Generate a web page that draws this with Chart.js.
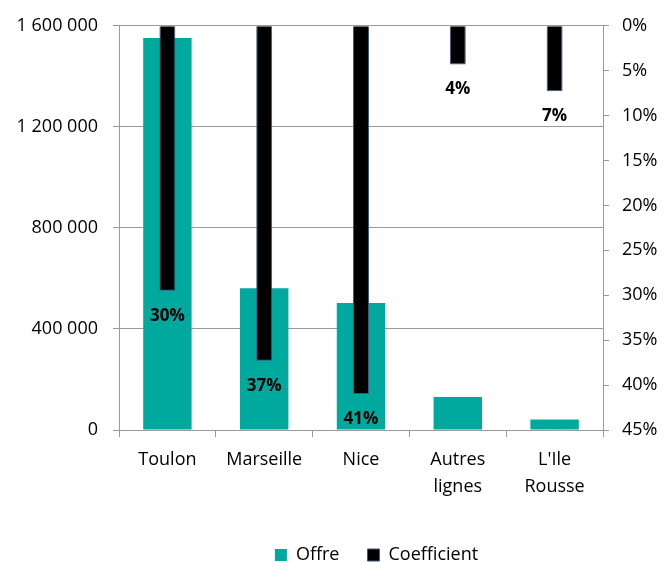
<!DOCTYPE html>
<html>
<head>
<meta charset="utf-8">
<script src="https://cdn.jsdelivr.net/npm/chart.js@4"></script>
<style>
  html, body { margin: 0; padding: 0; background: #fff; }
  #wrap { width: 665px; height: 563px; }
</style>
</head>
<body>
<div id="wrap"><canvas id="chart"></canvas></div>
<script>
const categories = ['Toulon', 'Marseille', 'Nice', ['Autres', 'lignes'], ["L'Ile", 'Rousse']];
const offre = [1552000, 561000, 503000, 131000, 42000];
const coefficient = [29.5, 37.3, 41, 4.3, 7.3];
const offreTicks = [0, 400000, 800000, 1200000, 1600000];
const coefTicks = [0, 5, 10, 15, 20, 25, 30, 35, 40, 45];

const AXIS_GREY = '#9a9a9a';
const FONT = '"Open Sans", sans-serif';

// labels under the hanging black bars
const barLabels = {
  id: 'barLabels',
  afterDatasetsDraw(chart) {
    const meta = chart.getDatasetMeta(1);
    const ctx = chart.ctx;
    ctx.save();
    ctx.font = `bold 17px ${FONT}`;
    ctx.fillStyle = '#000';
    ctx.textAlign = 'center';
    ctx.textBaseline = 'middle';
    meta.data.forEach((bar, i) => {
      ctx.fillText(Math.round(coefficient[i]) + '%', bar.x, bar.y + 25);
    });
    ctx.restore();
  },
};

// legend sits a bit right of the canvas centre in the original
const legendShift = {
  id: 'legendShift',
  afterLayout(chart) {
    chart.legend.left += 44;
    chart.legend.right += 44;
  },
};

function spaced(val) {
  return val.toString().replace(/\B(?=(\d{3})+(?!\d))/g, ' ');
}

new Chart(document.getElementById('chart'), {
  type: 'bar',
  data: {
    labels: categories,
    datasets: [
      {
        label: 'Offre',
        data: offre,
        yAxisID: 'y',
        backgroundColor: '#00a99d',
        barPercentage: 1,
        categoryPercentage: 0.5,
        grouped: false,
        order: 1,
      },
      {
        label: 'Coefficient',
        data: coefficient,
        yAxisID: 'y1',
        backgroundColor: '#000000',
        borderColor: '#3c5a86',
        borderWidth: 1,
        barPercentage: 0.33,
        categoryPercentage: 0.5,
        grouped: false,
        order: 0,
      },
    ],
  },
  options: {
    responsive: true,
    maintainAspectRatio: false,
    animation: false,
    layout: {
      padding: { top: 24, left: 0, right: 0, bottom: -11 },
    },
    scales: {
      x: {
        offset: true,
        grid: {
          offset: true,
          drawOnChartArea: false,
          color: AXIS_GREY,
          tickLength: 7,
        },
        border: { color: AXIS_GREY, width: 1 },
        ticks: {
          color: '#000',
          padding: 9,
          maxRotation: 0,
          font: { size: 18, family: FONT, lineHeight: 1.5 },
        },
        afterFit: (scale) => {
          scale.height = 88;
        },
      },
      y: {
        position: 'left',
        min: 0,
        max: 1600000,
        afterBuildTicks: (scale) => {
          scale.ticks = offreTicks.map((tick) => {
            return { value: tick };
          });
        },
        grid: {
          color: AXIS_GREY,
          tickLength: 6,
        },
        border: { color: AXIS_GREY, width: 1 },
        ticks: {
          color: '#000',
          padding: 15,
          callback: (val) => spaced(val),
          font: { size: 18, family: FONT },
        },
        afterFit: (scale) => {
          scale.width = 119;
        },
      },
      y1: {
        position: 'right',
        reverse: true,
        min: 0,
        max: 45,
        afterBuildTicks: (scale) => {
          scale.ticks = coefTicks.map((tick) => {
            return { value: tick };
          });
        },
        grid: {
          drawOnChartArea: false,
          color: AXIS_GREY,
          tickLength: 6,
        },
        border: { color: AXIS_GREY, width: 1 },
        ticks: {
          color: '#000',
          padding: 13,
          callback: (val) => val + '%',
          font: { size: 18, family: FONT },
        },
        afterFit: (scale) => {
          scale.width = 62;
        },
      },
    },
    plugins: {
      legend: {
        position: 'bottom',
        labels: {
          color: '#000',
          boxWidth: 12,
          boxHeight: 12,
          padding: 28,
          font: { size: 18, family: FONT },
          sort: (a, b) => a.datasetIndex - b.datasetIndex,
        },
      },
      tooltip: { enabled: false },
    },
  },
  plugins: [barLabels, legendShift],
});
</script>
</body>
</html>
